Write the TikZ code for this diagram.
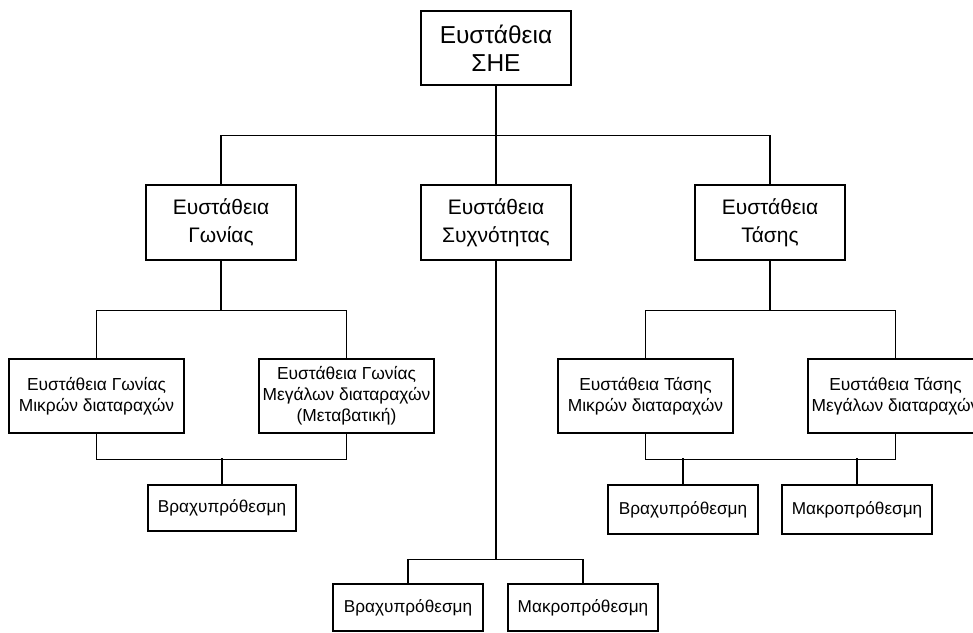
\documentclass[tikz,border=0pt]{standalone}
\usepackage{fontspec}
\setmainfont{Liberation Sans}
\begin{document}
\begin{tikzpicture}[x=1pt,y=-1pt,
  box/.style={draw, line width=1.1pt, rectangle, align=center, inner sep=0pt},
  conn/.style={line width=1.1pt},
  big/.style={box, minimum width=150pt, minimum height=74pt, font=\fontsize{24.5}{28}\selectfont},
  mid/.style={box, minimum width=150pt, minimum height=75pt, font=\fontsize{21}{28}\selectfont},
  wide/.style={box, minimum width=175pt, minimum height=74pt, font=\fontsize{17.4}{21}\selectfont},
  leaf/.style={box, minimum width=150pt, minimum height=47pt, font=\fontsize{17.2}{20}\selectfont}]
\useasboundingbox (0,0) rectangle (973,632);
\clip (0,0) rectangle (973,632);

% root
\node[big] (root) at (496,48) {Ευστάθεια\\ΣΗΕ};

% second level
\node[mid] (gon) at (221,222.5) {Ευστάθεια\\Γωνίας};
\node[mid] (syx) at (496,222.5) {Ευστάθεια\\Συχνότητας};
\node[mid] (tas) at (770,222.5) {Ευστάθεια\\Τάσης};

% angle stability
\node[wide] (gmik) at (96.5,396) {Ευστάθεια Γωνίας\\Μικρών διαταραχών};
\node[wide] (gmeg) at (346.5,396) {Ευστάθεια Γωνίας\\Μεγάλων διαταραχών\\(Μεταβατική)};
\node[leaf, minimum width=148pt, minimum height=46pt] (gbr) at (222,508) {Βραχυπρόθεσμη};

% voltage stability
\node[wide] (tmik) at (645.5,396) {Ευστάθεια Τάσης\\Μικρών διαταραχών};
\node[wide] (tmeg) at (895.5,396) {Ευστάθεια Τάσης\\Μεγάλων διαταραχών};
\node[leaf, minimum height=49pt] (tbr) at (683,509.5) {Βραχυπρόθεσμη};
\node[leaf, minimum height=49pt] (tma) at (857,509.5) {Μακροπρόθεσμη};

% frequency stability
\node[leaf] (sbr) at (408,607.5) {Βραχυπρόθεσμη};
\node[leaf] (sma) at (583,607.5) {Μακροπρόθεσμη};

% connectors
\draw[conn] (root.south) -- ++(0,50) coordinate (rb) -| (gon.north);
\draw[conn] (rb) -| (tas.north);
\draw[conn] (root.south) -- (syx.north);

\draw[conn] (gon.south) -- ++(0,50) coordinate (gb) -| (gmik.north);
\draw[conn] (gb) -| (gmeg.north);
\draw[conn] (gmik.south) -- ++(0,26) -| (gmeg.south);
\draw[conn] (gbr.north) -- ++(0,-26);

\draw[conn] (tas.south) -- ++(0,50) coordinate (tb) -| (tmik.north);
\draw[conn] (tb) -| (tmeg.north);
\draw[conn] (tmik.south) -- ++(0,26) -| (tmeg.south);
\draw[conn] (tbr.north) -- ++(0,-26);
\draw[conn] (tma.north) -- ++(0,-26);

\draw[conn] (syx.south) -- ++(0,299) coordinate (sb) -| (sbr.north);
\draw[conn] (sb) -| (sma.north);
\end{tikzpicture}
\end{document}
